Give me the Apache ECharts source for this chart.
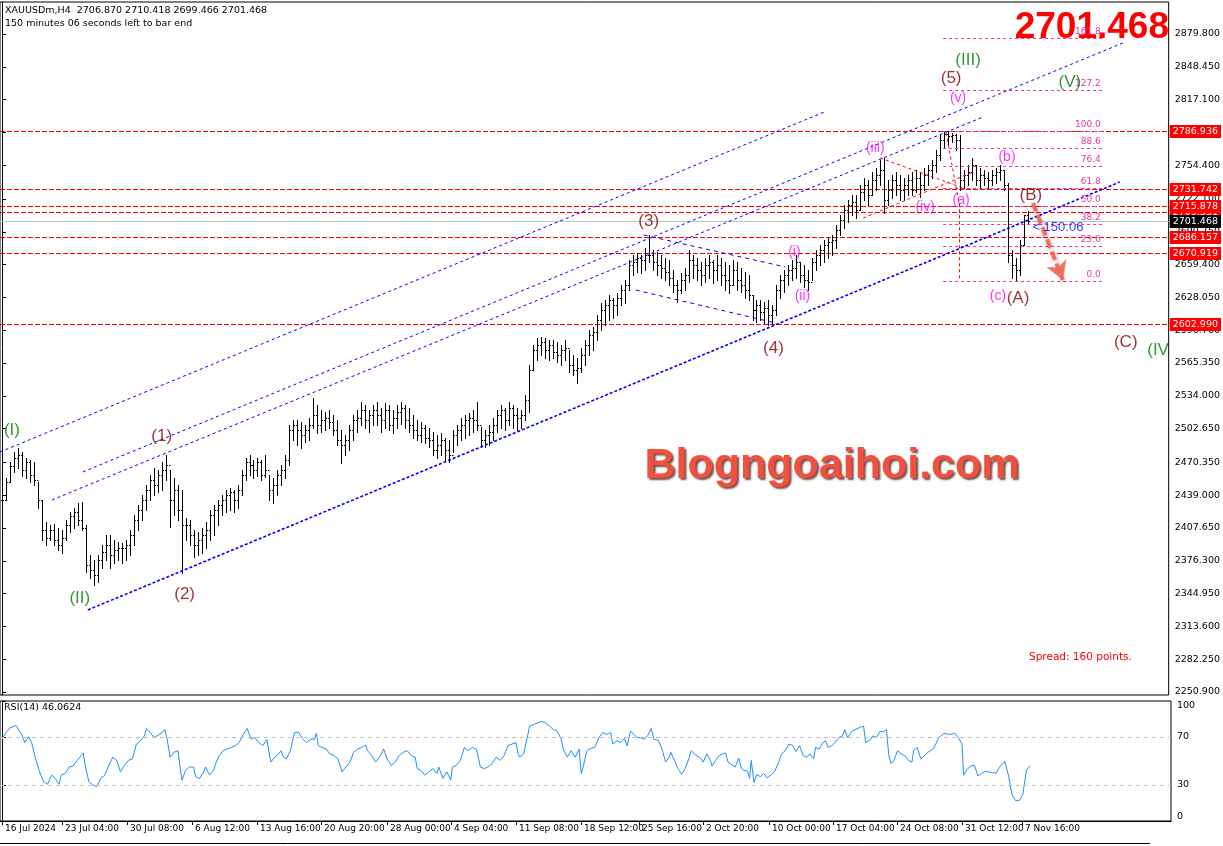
<!DOCTYPE html>
<html><head><meta charset="utf-8">
<script src="https://cdn.jsdelivr.net/npm/echarts@6/dist/echarts.min.js"></script>
<style>html,body{margin:0;padding:0;background:#fff}#c{width:1223px;height:846px}</style>
</head><body><div id="c"></div>
<script>
// ---------- DATA ----------
const highs=[2442.1,2455.4,2470.7,2480.3,2484.1,2480.3,2474.6,2472.6,2470.7,2451.6,
2434.4,2413.4,2410.5,2411.5,2407.6,2405.7,2415.3,2422.9,2426.7,2431.5,
2432.5,2410.5,2381.8,2377.1,2381.8,2391.4,2401.0,2401.0,2396.2,2394.3,
2393.3,2396.2,2405.7,2420.0,2429.6,2439.2,2448.7,2458.3,2465.0,2463.1,
2470.7,2477.4,2463.1,2455.4,2448.7,2444.0,2417.2,2415.3,2405.7,2403.8,
2407.6,2413.4,2424.8,2429.6,2434.4,2439.2,2444.0,2445.9,2444.0,2448.7,
2463.1,2474.6,2477.4,2472.6,2474.6,2472.6,2477.4,2458.3,2455.4,2463.1,
2467.9,2477.4,2506.1,2510.9,2510.9,2509.0,2506.1,2512.8,2531.9,2525.2,
2520.4,2518.5,2520.4,2515.6,2510.9,2501.3,2496.5,2506.1,2515.6,2520.4,
2528.1,2525.2,2520.4,2525.2,2528.1,2522.3,2527.1,2525.2,2520.4,2525.2,
2528.1,2525.2,2522.3,2515.6,2510.9,2509.0,2506.1,2503.2,2499.4,2496.5,
2498.4,2493.7,2491.8,2501.3,2506.1,2512.8,2515.6,2517.5,2520.4,2528.1,
2504.2,2501.3,2506.1,2512.8,2520.4,2525.2,2522.3,2528.1,2525.2,2522.3,
2520.4,2534.8,2563.4,2582.5,2589.2,2590.2,2589.2,2587.3,2587.3,2585.4,
2582.5,2587.3,2577.8,2573.0,2570.1,2579.7,2587.3,2596.9,2599.8,2611.2,
2622.8,2625.6,2630.3,2627.5,2632.2,2639.9,2644.7,2663.8,2668.6,2670.5,
2668.6,2675.3,2687.7,2673.4,2671.5,2668.6,2665.7,2663.8,2654.2,2644.7,
2651.4,2656.1,2673.4,2668.6,2665.7,2661.9,2665.7,2668.6,2663.8,2668.6,
2665.7,2661.9,2659.0,2663.8,2661.9,2656.1,2652.3,2649.5,2630.3,2625.6,
2625.6,2623.6,2625.6,2620.8,2639.9,2649.5,2654.2,2659.0,2663.8,2668.6,
2661.9,2659.0,2654.2,2665.7,2673.4,2678.1,2682.9,2684.8,2687.7,2697.2,
2706.8,2716.4,2721.1,2725.9,2725.9,2735.5,2742.2,2740.3,2747.9,2751.7,
2759.4,2761.3,2740.3,2745.1,2747.9,2745.1,2742.2,2745.1,2747.9,2749.8,
2747.9,2751.7,2754.6,2759.4,2768.9,2783.3,2786.0,2786.936,2785.5,2784.0,
2783.3,2749.8,2754.6,2761.3,2754.6,2751.7,2749.8,2747.9,2749.8,2751.7,
2754.6,2749.8,2737.4,2673.4,2665.7,2682.9,2706.8,2710.418];
const lows=[2420.0,2434.4,2451.6,2461.2,2465.0,2457.4,2455.4,2451.6,2448.7,2426.7,
2396.2,2391.4,2396.2,2391.4,2386.6,2383.7,2396.2,2403.8,2407.6,2410.5,
2405.7,2365.6,2359.8,2353.1,2356.0,2369.4,2377.1,2369.4,2374.2,2377.1,
2374.2,2377.1,2381.8,2391.4,2405.7,2415.3,2424.8,2434.4,2439.2,2442.1,
2444.0,2453.5,2408.6,2420.0,2415.3,2364.6,2396.2,2391.4,2379.9,2381.8,
2383.7,2388.5,2396.2,2401.0,2410.5,2420.0,2422.9,2424.8,2422.9,2426.7,
2439.2,2453.5,2458.3,2455.4,2457.4,2453.5,2456.4,2434.4,2431.5,2439.2,
2448.7,2455.4,2467.9,2491.8,2487.0,2484.1,2489.9,2491.8,2503.2,2498.4,
2499.4,2501.3,2503.2,2496.5,2487.0,2469.8,2477.4,2482.2,2491.8,2499.4,
2506.1,2503.2,2499.4,2506.1,2506.1,2499.4,2503.2,2501.3,2498.4,2503.2,
2507.0,2503.2,2499.4,2493.7,2491.8,2489.9,2488.9,2485.1,2477.4,2474.6,
2477.4,2472.6,2470.7,2480.3,2487.0,2491.8,2493.7,2496.5,2499.4,2501.3,
2485.1,2485.1,2487.0,2491.8,2499.4,2503.2,2501.3,2506.1,2503.2,2501.3,
2503.2,2510.9,2518.5,2558.7,2568.2,2573.0,2570.1,2568.2,2570.1,2566.3,
2563.4,2568.2,2556.7,2553.9,2546.2,2556.7,2563.4,2573.0,2577.8,2587.3,
2596.9,2601.7,2606.4,2608.4,2611.2,2620.8,2622.7,2635.1,2649.5,2652.3,
2651.4,2654.2,2661.9,2654.2,2649.5,2646.6,2644.7,2639.9,2633.2,2623.6,
2632.2,2635.1,2642.8,2646.6,2644.7,2639.9,2642.8,2646.6,2641.8,2644.7,
2639.9,2635.1,2632.2,2639.9,2635.1,2633.2,2627.5,2625.6,2606.4,2604.5,
2606.4,2603.6,2601.7,2603.6,2611.2,2627.5,2633.2,2639.9,2644.7,2646.6,
2642.8,2638.0,2635.1,2644.7,2654.2,2659.0,2661.9,2665.7,2668.6,2675.3,
2687.7,2694.4,2700.1,2706.8,2703.9,2711.6,2721.1,2716.4,2725.9,2730.7,
2735.5,2708.7,2716.4,2723.1,2725.9,2721.1,2721.1,2725.9,2725.9,2728.8,
2724.0,2730.7,2735.5,2742.2,2747.9,2759.4,2770.8,2773.7,2776.6,2768.9,
2730.7,2732.6,2735.5,2740.3,2735.5,2733.6,2735.5,2732.6,2735.5,2737.4,
2740.3,2730.7,2661.9,2646.6,2643.5,2649.5,2678.1,2699.466];
const closes=[2434.4,2451.6,2466.9,2474.6,2477.4,2463.1,2470.7,2458.3,2453.5,2434.4,
2405.7,2398.1,2405.7,2396.2,2391.4,2398.1,2410.5,2419.1,2422.9,2415.3,
2407.6,2372.3,2367.5,2362.7,2377.1,2384.7,2391.4,2381.8,2386.6,2388.5,
2388.5,2391.4,2401.0,2415.3,2424.8,2434.4,2444.0,2453.5,2448.7,2458.3,
2463.1,2467.9,2434.4,2444.0,2424.8,2410.5,2410.5,2401.0,2391.4,2396.2,
2401.0,2405.7,2420.0,2424.8,2429.6,2434.4,2439.2,2442.1,2434.4,2444.0,
2458.3,2470.7,2467.9,2463.1,2470.7,2458.3,2463.1,2444.0,2448.7,2458.3,
2463.1,2472.6,2501.3,2506.1,2501.3,2496.5,2501.3,2506.1,2515.6,2506.1,
2510.9,2512.8,2509.0,2501.3,2491.8,2487.0,2491.8,2501.3,2510.9,2512.8,
2520.4,2510.9,2515.6,2520.4,2515.6,2510.9,2520.4,2506.1,2512.8,2518.5,
2522.3,2510.9,2506.1,2501.3,2496.5,2503.2,2493.7,2491.8,2482.2,2487.0,
2491.8,2482.2,2477.4,2496.5,2501.3,2506.1,2510.9,2512.8,2510.9,2506.1,
2491.8,2496.5,2499.4,2506.1,2515.6,2520.4,2510.9,2522.3,2515.6,2512.8,
2515.6,2530.0,2558.7,2577.8,2582.5,2585.4,2577.8,2582.5,2575.9,2573.0,
2577.8,2579.7,2563.4,2558.7,2560.6,2573.0,2582.5,2592.1,2595.0,2606.4,
2616.0,2620.8,2625.6,2620.8,2627.5,2635.1,2639.9,2659.0,2661.9,2665.7,
2663.8,2668.6,2668.6,2661.9,2659.0,2656.1,2652.3,2646.6,2639.9,2635.1,
2644.7,2649.5,2663.8,2659.0,2654.2,2649.5,2659.0,2661.9,2654.2,2659.0,
2649.5,2644.7,2639.9,2654.2,2644.7,2639.9,2635.1,2630.3,2616.0,2620.8,
2614.1,2618.0,2611.2,2616.0,2635.1,2644.7,2649.5,2654.2,2656.1,2661.9,
2649.5,2644.7,2642.8,2661.9,2668.6,2673.4,2678.1,2681.0,2682.9,2692.5,
2702.0,2711.6,2716.4,2719.2,2711.6,2728.8,2735.5,2725.9,2740.3,2745.1,
2749.8,2721.1,2730.7,2740.3,2735.5,2730.7,2735.5,2740.3,2730.7,2742.2,
2735.5,2745.1,2749.8,2754.6,2764.2,2778.5,2784.0,2782.0,2783.3,2778.5,
2740.3,2745.1,2747.9,2754.6,2740.3,2745.1,2742.2,2740.3,2745.1,2747.9,
2749.8,2735.5,2668.6,2659.0,2654.2,2678.1,2706.870,2701.468];

const priceTicks=[2879.8,2848.45,2817.1,2785.75,2754.4,2722.1,2690.75,2659.4,2628.05,2596.7,2565.35,2534.0,2502.65,2470.35,2439.0,2407.65,2376.3,2344.95,2313.6,2282.25,2250.9];
const dateTickIdx=[0,15,31.25,47.5,63.75,79.75,96.25,112.25,128.5,144.75,159.25,175.25,191.75,207.75,223.75,240,255];
const dateTickLabels=['16 Jul 2024','23 Jul 04:00','30 Jul 08:00','6 Aug 12:00','13 Aug 16:00','20 Aug 20:00','28 Aug 00:00','4 Sep 04:00','11 Sep 08:00','18 Sep 12:00','25 Sep 16:00','2 Oct 20:00','10 Oct 00:00','17 Oct 04:00','24 Oct 08:00','31 Oct 12:00','7 Nov 16:00'];
const levelLines=[2786.936,2731.742,2709.331,2715.878,2686.157,2670.919,2602.990];
const fibRatios=[0,23.6,38.2,50,61.8,76.4,88.6,100,127.2,161.8];
const fibHigh=2786.936, fibLow=2643.5, fibFrom=235.75, fibTo=275.75;
const rsiTicks=[100,70,30,0];
const rsiLevels=[70,30];
const rsi=[[0,68],[1,73.6],[2,77.7],[3.5,79.6],[4,78.5],[4.9,72.2],[5.7,65.4],[6.7,70.3],[7.4,65.4],[8.4,51.8],[9.4,40.9],[10.4,32.8],[11.4,30.6],[12.4,38.2],[13.3,35.5],[14.3,30.6],[14.8,38.2],[15.8,39.6],[16.8,45],[17.8,45.8],[18.8,50.5],[19.8,54.5],[20.3,56.7],[20.8,46.4],[21.7,32.8],[22.7,30.1],[23.7,28.7],[24.7,35.5],[25.7,38.2],[26.7,46.4],[27.7,53.2],[28.7,50.5],[29.6,40.9],[30.6,46.4],[31.6,50.5],[32.6,51.8],[33.6,64.1],[34.6,66.8],[35.6,70.9],[36.1,77.1],[37.1,73.6],[38,69.5],[39,71.4],[40,73.6],[40.7,76.3],[41.3,68.1],[42,53.2],[43,57.3],[44,58.6],[44.5,45],[45,34.1],[45.9,42.3],[46.9,45],[47.9,45],[48.4,36.9],[49.4,35.5],[50.4,40.9],[50.9,45],[51.9,38.2],[52.9,42.3],[53.4,47.7],[54.3,54.5],[55.3,58.6],[56.3,60],[57.3,61.3],[58.3,62.7],[59.3,65.4],[60.3,72.2],[61.3,77.1],[62.3,68.1],[63.2,69.5],[64.2,65.4],[65.2,62.7],[66.2,68.1],[67.2,49.1],[68.2,53.2],[69.2,55.9],[69.7,58.6],[70.4,53.2],[71.1,51.8],[72.1,58.6],[73.1,73.6],[74.1,74.1],[75.1,68.7],[76.1,65.4],[77.1,68.1],[78.1,68.1],[78.6,73],[79.1,62.7],[80,61.3],[81,60],[82,55.9],[83,54.5],[84,51.8],[85,40.9],[86,45],[87,49.1],[87.9,57.3],[88.9,60],[89.9,61.3],[90.9,63.2],[91.4,58.6],[92.4,54.5],[93.4,49.1],[94.4,53.2],[95.4,60],[96.3,51.8],[97.3,46.4],[98.3,49.1],[99.3,54.5],[100.3,57.3],[101.3,58.6],[102.3,54.5],[103.3,53.2],[103.8,43.7],[104.7,42.3],[105.7,38.2],[106.7,40.9],[107.7,43.7],[108.7,39.6],[109.2,45],[110.2,35.5],[111.2,40.9],[112.2,34.1],[112.6,45],[113.6,46.4],[114.6,50.5],[115.6,61.3],[116.6,58.6],[117.6,61.3],[118.6,60],[119.6,45],[120.6,43.7],[121.5,45],[122.5,47.7],[123.5,53.2],[124.5,50.5],[125.5,54.5],[126.5,62.7],[127.5,64.1],[128.5,65.4],[129,55.9],[129.4,53.2],[130.4,55.9],[131.4,70.9],[131.9,79],[132.9,80.4],[133.9,81.7],[134.9,83.1],[135.9,81.7],[136.9,79],[137.8,76.3],[138.8,74.9],[139.8,68.1],[140.3,60],[141.3,53.2],[142.3,58.6],[143.3,53.2],[144.3,60],[144.8,39.6],[145.3,45],[146.2,58.6],[147.2,60.5],[148.2,61.3],[149.2,69.5],[150.2,73.6],[151.2,72.2],[152.2,73.6],[152.7,64.1],[153.7,66.8],[154.7,65.4],[155.6,68.7],[156.3,62.7],[157.1,74.9],[158,72.2],[158.8,69.5],[159.6,69.5],[160.5,68.1],[161.4,70.9],[162.3,77.1],[163,68.1],[164.1,67.3],[165,60],[165.9,49.1],[166.8,53.2],[167.2,57.3],[168.1,50.5],[169,43.7],[169.9,38.8],[170.8,43.7],[171.7,51.8],[172.3,58.6],[173.5,54.5],[174.4,53.2],[175.3,49.1],[176.2,55.9],[177.1,50.5],[177.5,45.8],[178.4,50.5],[179.3,54.5],[180.2,55.9],[180.9,56.7],[181.5,49.1],[182.4,46.9],[183.3,45],[184.2,52.4],[184.8,44.2],[185.5,42.3],[186.4,41.5],[186.9,35.5],[187.3,50.5],[188,32.2],[188.7,38.8],[189.6,36.9],[190.4,39.6],[191.3,36],[192.2,38.2],[193.1,40.9],[194,47.7],[194.9,55.9],[195.8,58.6],[196.7,64.1],[197.6,63.2],[198.5,57.8],[199.4,62.7],[200.3,54.5],[201.2,53.2],[202,55.9],[202.9,51.8],[203.4,61.3],[204.3,60],[205.2,65.4],[205.9,66.8],[206.5,61.3],[207.4,62.7],[208.3,65.4],[209.2,69.5],[210.1,70.9],[210.7,76.3],[211.4,69.5],[212.5,74.9],[213.7,76.8],[214.6,78.2],[215.4,79],[215.9,65.4],[216.8,66.8],[217.7,70.9],[218.6,69.5],[219.5,74.9],[220.4,74.1],[221.1,76.3],[221.7,54.5],[222.3,47.7],[223,50.5],[223.9,58.6],[224.8,55.9],[225.7,54.5],[226.6,50.5],[227.5,49.1],[227.9,58.6],[228.8,61.3],[229.7,51.8],[230.6,54.5],[231.5,57.3],[232.9,60.5],[234.2,69.5],[235.5,73],[236.9,72.2],[238.2,73],[239.1,69.5],[240,64.1],[240.4,38.2],[241.3,43.1],[242.2,45.8],[243.1,46.4],[244,37.4],[244.9,39.6],[245.8,41.5],[246.7,40.9],[247.6,40.4],[248.5,39.6],[249.4,45],[250.7,49.6],[251.6,38.2],[252.5,21.9],[253.4,17],[254.3,17],[255.2,21.9],[256.1,42.3],[257,46.0624]];

// trend lines: [[idx1, price1],[idx2, price2]]
const channelLines=[
  [[21.5,2329.3],[280,2738.3]],
  [[-0.5,2480.3],[206,2805.3]],
  [[12.5,2434.4],[245.75,2800.5]],
  [[20.25,2461.2],[280.75,2871.2]]
];
const wedgeLines=[
  [[160.75,2687.7],[196.25,2657.1]],
  [[158.75,2635.1],[193.75,2603.6]]
];
const redDiagLines=[
  [[220,2761.3],[240.75,2732.6]],
  [[215.75,2703.9],[243.25,2747.9]],
  [[236.5,2785.2],[239.75,2718.0]],
  [[239.75,2718.0],[239.75,2643.7]]
];
const arrowLine=[[258.25,2718.3],[265.75,2644.7]];
const timerLabel=['< 150:06',264.5,2695.3];
// wave labels: [text, idx, price, kind]
const waveLabels=[
  ['(I)',2.5,2501.3,'g'],['(II)',19.5,2340.7,'g'],['(III)',242,2855.0,'g'],['(V)',267.5,2833.9,'g'],['(IV',289.6,2577.8,'g'],
  ['(1)',40,2495.6,'r'],['(2)',45.75,2344.6,'r'],['(3)',162,2701.1,'r'],['(4)',193.25,2579.7,'r'],['(5)',237.75,2837.7,'r'],
  ['(A)',254.5,2627.5,'r'],['(B)',257.75,2725.9,'r'],['(C)',281.5,2585.4,'r'],
  ['(i)',198.5,2671.4,'m'],['(ii)',200.5,2629.4,'m'],['(iii)',218.75,2770.8,'m'],['(iv)',231.25,2714.5,'m'],['(v)',239.5,2818.6,'m'],
  ['(a)',240.25,2721.1,'m'],['(b)',251.75,2762.2,'m'],['(c)',249.5,2629.4,'m']
];

// ---------- CHART ----------
const N=closes.length;
const ohlc=closes.map((c,i)=>[i, i>0?closes[i-1]:c, highs[i], lows[i], c]);
const last=N-1;
const F='DejaVu Sans';
const xMin=-0.5, xMax=292.25;
const kindColor={g:'#008000', r:'#800000', m:'#ff00ff'};
const kindSize={g:17,r:17,m:14};

const mlData=[];
fibRatios.forEach(r=>{
  const v=fibLow+(fibHigh-fibLow)*r/100;
  mlData.push([{coord:[fibFrom,v],lineStyle:{color:'#e8399b',type:[3,3],width:1},
     label:{show:true,position:'insideEndTop',formatter:r.toFixed(1),color:'#e8399b',fontSize:9,fontFamily:F,distance:2}},{coord:[fibTo,v]}]);
});
channelLines.forEach((l,k)=>mlData.push([{coord:l[0],lineStyle:{color:'#0000ff',type:k===0?[3,2]:[3,3],width:k===0?1.6:1},label:{show:false}},{coord:l[1]}]));
wedgeLines.forEach(l=>mlData.push([{coord:l[0],lineStyle:{color:'#0000ff',type:[4,4],width:1},label:{show:false}},{coord:l[1]}]));
redDiagLines.forEach(l=>mlData.push([{coord:l[0],lineStyle:{color:'#ff0000',type:[3,3],width:1},label:{show:false}},{coord:l[1]}]));

// horizontal level lines + price tags (last item = bid line)
const levelData=levelLines.map(v=>[xMin,v,0]).concat([[xMin,closes[last],1]]);
function renderLevel(params,api){
  const cs=params.coordSys;
  const v=api.value(1), isBid=api.value(2)===1;
  const y=Math.round(api.coord([xMin,v])[1])+0.5;
  return {type:'group',children:[
    {type:'line',shape:{x1:cs.x,y1:y,x2:cs.x+cs.width,y2:y},
     style:{stroke:isBid?'#c0c0c0':'#ff0000',lineWidth:1,lineDash:isBid?null:[5,2]}},
    {type:'text',x:cs.x+cs.width+1,y:y,
     style:{text:v.toFixed(3),fill:'#fff',backgroundColor:isBid?'#000':'#ff0000',padding:[2,3,1,3],
       font:'9.5px "DejaVu Sans"',verticalAlign:'middle',align:'left'}}
  ]};
}

const chart=echarts.init(document.getElementById('c'),null,{renderer:'canvas'});
chart.setOption({
  animation:false,
  backgroundColor:'#fff',
  textStyle:{fontFamily:F},
  grid:[
    {left:0,top:2,width:1171,height:693,show:true,borderColor:'#000',borderWidth:1},
    {left:0,top:701,width:1171,height:120,show:true,borderColor:'#000',borderWidth:1}
  ],
  xAxis:[
    {type:'value',gridIndex:0,min:xMin,max:xMax,show:false},
    {type:'value',gridIndex:1,min:xMin,max:xMax,
     axisLine:{show:true,lineStyle:{color:'#000'}},
     axisTick:{show:true,customValues:dateTickIdx,length:4,lineStyle:{color:'#000'}},
     axisLabel:{customValues:dateTickIdx,align:'left',margin:3,padding:[0,0,0,3],fontSize:9,color:'#000',fontFamily:F,
       formatter:v=>{const k=dateTickIdx.findIndex(t=>Math.abs(t-v)<1e-6);return k>=0?dateTickLabels[k]:'';}},
     splitLine:{show:false}}
  ],
  yAxis:[
    {type:'value',gridIndex:0,position:'right',min:2248.0,max:2910.4,
     axisLine:{show:true,lineStyle:{color:'#000'}},
     axisTick:{show:true,customValues:priceTicks,length:4,lineStyle:{color:'#000'}},
     axisLabel:{customValues:priceTicks,formatter:v=>v.toFixed(3),fontSize:9.5,color:'#000',margin:6,fontFamily:F},
     splitLine:{show:false}},
    {type:'value',gridIndex:1,position:'right',min:0,max:100,
     axisLine:{show:true,lineStyle:{color:'#000'}},
     axisTick:{show:true,customValues:rsiTicks,length:4,lineStyle:{color:'#000'}},
     axisLabel:{customValues:rsiTicks,margin:6,fontSize:9.5,color:'#000',fontFamily:F,
       formatter:v=>v===100?'{a|100}':(v===0?'{b|0}':String(v)),
       rich:{a:{padding:[10,0,0,0],fontSize:9.5,fontFamily:F,color:'#000'},b:{padding:[0,0,9,0],fontSize:9.5,fontFamily:F,color:'#000'}}},
     splitLine:{show:false}}
  ],
  series:[
    {type:'custom',xAxisIndex:0,yAxisIndex:0,data:levelData,clip:false,z:2,encode:{x:0,y:1},renderItem:renderLevel,silent:true},
    {type:'custom',xAxisIndex:0,yAxisIndex:0,data:ohlc,clip:true,z:3,encode:{x:0,y:[1,2,3,4]},silent:true,
     renderItem:(params,api)=>{
       const i=api.value(0);
       const ph=api.coord([i,api.value(2)]), pl=api.coord([i,api.value(3)]);
       const po=api.coord([i,api.value(1)]), pc=api.coord([i,api.value(4)]);
       const x=Math.round(ph[0])+0.5;
       const yo=Math.round(po[1])+0.5, yc=Math.round(pc[1])+0.5;
       const st={stroke:'#000',lineWidth:1};
       return {type:'group',children:[
         {type:'line',shape:{x1:x,y1:Math.round(ph[1]),x2:x,y2:Math.round(pl[1])+1},style:st},
         {type:'line',shape:{x1:x-1.5,y1:yo,x2:x,y2:yo},style:st},
         {type:'line',shape:{x1:x,y1:yc,x2:x+1.5,y2:yc},style:st}
       ]};
     }},
    {type:'scatter',xAxisIndex:0,yAxisIndex:0,data:[],silent:true,z:10,
     markLine:{silent:true,symbol:['none','none'],animation:false,precision:3,data:mlData}},
    {type:'scatter',xAxisIndex:0,yAxisIndex:0,silent:true,z:11,
     markLine:{silent:true,symbol:['none','arrow'],symbolSize:[16,18],animation:false,
       data:[[{coord:arrowLine[0],lineStyle:{color:'#f26352',width:4,type:[9,4],opacity:0.9,shadowBlur:4,shadowColor:'rgba(0,0,0,0.35)',shadowOffsetX:1,shadowOffsetY:2},label:{show:false}},{coord:arrowLine[1]}]]},
     data:[]},
    {type:'scatter',xAxisIndex:0,yAxisIndex:0,silent:true,z:12,symbolSize:1,itemStyle:{color:'transparent'},
     data:waveLabels.map(w=>({value:[w[1],w[2]],label:{show:true,position:'inside',formatter:w[0],color:kindColor[w[3]],fontSize:kindSize[w[3]],fontFamily:'Liberation Sans'}}))
       .concat([{value:[timerLabel[1],timerLabel[2]],label:{show:true,position:'inside',formatter:timerLabel[0],color:'#0000ff',fontSize:13,fontFamily:'Liberation Sans'}}])},
    {type:'line',xAxisIndex:1,yAxisIndex:1,data:rsi,symbol:'none',silent:true,
     lineStyle:{color:'#1e90ff',width:1},
     markLine:{silent:true,symbol:['none','none'],label:{show:false},
       lineStyle:{color:'#c0c0c0',type:[4,4],width:1},data:rsiLevels.map(v=>({yAxis:v}))}}
  ],
  graphic:[
    {type:'text',z:0,left:5,top:6,style:{text:'XAUUSDm,H4  '+closes[last-1].toFixed(3)+' '+highs[last].toFixed(3)+' '+lows[last].toFixed(3)+' '+closes[last].toFixed(3),fill:'#000',font:'9.5px "DejaVu Sans"'}},
    {type:'text',z:0,left:5,top:19,style:{text:'150 minutes 06 seconds left to bar end',fill:'#000',font:'9.5px "DejaVu Sans"'}},
    {type:'text',z:0,right:54,top:9,style:{text:closes[last].toFixed(3),fill:'#ff0000',font:'bold 37px "Liberation Sans"'}},
    {type:'text',z:0,x:832,y:466,style:{text:'Blogngoaihoi.com',fill:'#f0503c',font:'bold 43px "Liberation Sans"',align:'center',verticalAlign:'middle',
      textShadowColor:'rgba(60,0,0,0.7)',textShadowBlur:2,textShadowOffsetX:2,textShadowOffsetY:2}},
    {type:'text',z:0,left:1029,top:652,style:{text:'Spread: 160 points.',fill:'#ff0000',font:'10.5px "DejaVu Sans"'}},
    {type:'text',z:0,left:4,top:703,style:{text:'RSI(14) '+rsi[rsi.length-1][1].toFixed(4),fill:'#000',font:'9.5px "DejaVu Sans"'}},
    {type:'line',z:0,shape:{x1:0,y1:843.5,x2:1150,y2:843.5},style:{stroke:'#000',lineWidth:1}}
  ]
});
</script></body></html>
